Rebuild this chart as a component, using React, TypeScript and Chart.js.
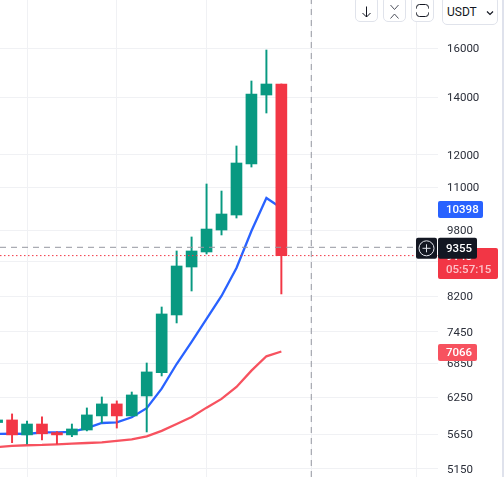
import { useEffect, useRef } from 'react';
import { Chart, registerables } from 'chart.js';

Chart.register(...registerables);

// candle values, oldest first
const opens = [5836, 5877, 5645, 5813, 5680, 5645, 5720, 5941, 6136, 5941, 6269, 6675, 7797, 8872, 9238, 9801, 10205, 11707, 14098, 14522];
const highs = [5900, 5973, 5861, 5925, 5696, 5813, 6070, 6252, 6186, 6336, 6851, 7966, 9263, 9619, 11094, 10886, 12290, 14640, 15914, 14522];
const lows = [5800, 5528, 5509, 5568, 5509, 5618, 5706, 5829, 5750, 5941, 5690, 6616, 7631, 8317, 9189, 9671, 10123, 11613, 13431, 8251];
const closes = [5877, 5645, 5813, 5662, 5645, 5736, 5957, 6136, 5941, 6286, 6688, 7818, 8896, 9263, 9827, 10233, 11739, 14136, 14522, 9148];

// moving averages
const fastMa = [5659, 5665, 5659, 5683, 5685, 5690, 5750, 5829, 5840, 5920, 6065, 6393, 6832, 7250, 7714, 8206, 8848, 9776, 10684, 10398];
const slowMa = [5461, 5480, 5490, 5494, 5504, 5513, 5523, 5534, 5554, 5579, 5624, 5706, 5813, 5925, 6075, 6220, 6423, 6712, 6976, 7066];

const priceTicks = [16000, 14000, 12000, 11000, 9800, 9000, 8200, 7450, 6850, 6250, 5650, 5150];
const timeTicks = [2, 8, 14, 21, 28];

const crosshairPrice = 9355;
const crosshairTime = 21;
const lastPrice = 9148;
const countdown = '05:57:15';

const xMin = 0.194;
const xMax = 29.47;
const yMin = 5040;
const yMax = 18208;

const green = '#089981';
const red = '#f23645';
const blue = '#2962ff';
const pink = '#f7525f';
const dark = '#131722';
const gridColor = '#f0f1f4';
const labelFont = '500 11.5px Roboto';

const colors = closes.map((c, i) => (c >= opens[i] ? green : red));

function tag(ctx: CanvasRenderingContext2D, x: number, y: number, w: number, h: number, bg: string) {
  ctx.fillStyle = bg;
  ctx.beginPath();
  ctx.roundRect(x, y, w, h, 2);
  ctx.fill();
}

function tagText(ctx: CanvasRenderingContext2D, text: string, x: number, y: number, color = '#fff') {
  ctx.fillStyle = color;
  ctx.font = labelFont;
  ctx.textAlign = 'left';
  ctx.textBaseline = 'middle';
  ctx.fillText(text, x, y);
}

// price tags over the axis
const priceTags = {
  id: 'priceTags',
  afterDraw(chart: Chart) {
    const ctx = chart.ctx;
    const y = chart.scales.y;
    ctx.save();

    const fastY = y.getPixelForValue(fastMa[fastMa.length - 1]) + 1.5;
    tag(ctx, 438, fastY - 8.5, 45, 17, blue);
    tagText(ctx, String(fastMa[fastMa.length - 1]), 446, fastY + 1);

    const slowY = y.getPixelForValue(slowMa[slowMa.length - 1]) + 0.9;
    tag(ctx, 438, slowY - 8.5, 39, 17, pink);
    tagText(ctx, String(slowMa[slowMa.length - 1]), 446, slowY + 1);

    const lastY = y.getPixelForValue(lastPrice);
    tag(ctx, 438, lastY - 7.5, 60, 31, red);
    tagText(ctx, String(lastPrice), 446, lastY + 2);
    tagText(ctx, countdown, 446, lastY + 15, '#fcc2c8');

    const crossY = y.getPixelForValue(crosshairPrice) + 1;
    tag(ctx, 416, crossY - 10.5, 21, 21, dark);
    tag(ctx, 438, crossY - 10.5, 39, 21, dark);
    tagText(ctx, String(crosshairPrice), 446, crossY + 1);

    ctx.strokeStyle = '#e0e3eb';
    ctx.lineWidth = 1;
    ctx.beginPath();
    ctx.arc(426.5, crossY, 7.5, 0, Math.PI * 2);
    ctx.moveTo(422.5, crossY);
    ctx.lineTo(430.5, crossY);
    ctx.moveTo(426.5, crossY - 4);
    ctx.lineTo(426.5, crossY + 4);
    ctx.stroke();

    ctx.restore();
  },
};

const buttonStyle = {
  position: 'absolute',
  top: -4,
  height: 26,
  width: 23,
  boxSizing: 'border-box',
  background: '#fff',
  border: '1px solid #e0e3eb',
  borderRadius: 5,
} as const;

function Toolbar() {
  return (
    <>
      <div style={{ ...buttonStyle, left: 355 }}>
        <svg width="21" height="24" style={{ display: 'block' }}>
          <path d="M10.5 9.5V20M6.5 16l4 4 4-4" fill="none" stroke="#131722" strokeWidth="1" />
        </svg>
      </div>
      <div style={{ ...buttonStyle, left: 382.5 }}>
        <svg width="21" height="24" style={{ display: 'block' }}>
          <path d="M6.5 8l4 4.5 4-4.5M6.5 21.5l4-4.5 4 4.5" fill="none" stroke="#50535e" strokeWidth="1" />
        </svg>
      </div>
      <div style={{ ...buttonStyle, left: 410.5 }}>
        <svg width="21" height="24" style={{ display: 'block' }}>
          <path d="M4.5 11.5v-1a3 3 0 0 1 3-3h6a3 3 0 0 1 3 3v1M4.5 15.5v1a3 3 0 0 0 3 3h6a3 3 0 0 0 3-3v-1" fill="none" stroke="#131722" strokeWidth="1" />
        </svg>
      </div>
      <div style={{ ...buttonStyle, left: 442, width: 56, height: 29, paddingTop: 8, paddingLeft: 4, font: '12px Roboto', color: dark }}>
        USDT
        <svg width="8" height="6" style={{ position: 'absolute', left: 43, top: 13 }}>
          <path d="M1 1.5l3 3 3-3" fill="none" stroke="#131722" strokeWidth="1.2" />
        </svg>
      </div>
    </>
  );
}

export default function App() {
  const canvasRef = useRef<HTMLCanvasElement>(null);

  useEffect(() => {
    if (!canvasRef.current) return;

    const chart = new Chart(canvasRef.current, {
      type: 'bar',
      data: {
        datasets: [
          {
            type: 'line',
            data: [{ x: xMin, y: crosshairPrice }, { x: xMax, y: crosshairPrice }],
            borderColor: '#9598a1',
            borderWidth: 1,
            borderDash: [6, 5],
            pointRadius: 0,
            order: 0,
          },
          {
            type: 'line',
            data: [{ x: crosshairTime, y: yMin }, { x: crosshairTime, y: yMax }],
            borderColor: '#9598a1',
            borderWidth: 1,
            borderDash: [6, 5],
            pointRadius: 0,
            order: 0,
          },
          {
            type: 'line',
            data: [{ x: xMin, y: lastPrice }, { x: xMax, y: lastPrice }],
            borderColor: red,
            borderWidth: 1,
            borderDash: [1.5, 2.5],
            pointRadius: 0,
            order: 1,
          },
          {
            label: 'Body',
            data: closes.map((c, i) => ({ x: i, y: [opens[i], c] })),
            backgroundColor: colors,
            maxBarThickness: 11,
            grouped: false,
            categoryPercentage: 1,
            barPercentage: 1,
            order: 2,
          },
          {
            label: 'Wick',
            data: highs.map((h, i) => ({ x: i, y: [lows[i], h] })),
            backgroundColor: colors,
            maxBarThickness: 1.3,
            grouped: false,
            categoryPercentage: 1,
            barPercentage: 1,
            order: 3,
          },
          {
            type: 'line',
            label: 'MA fast',
            data: fastMa.map((v, i) => ({ x: i, y: v })),
            borderColor: blue,
            borderWidth: 2.3,
            pointRadius: 0,
            tension: 0,
            order: 4,
          },
          {
            type: 'line',
            label: 'MA slow',
            data: slowMa.map((v, i) => ({ x: i, y: v })),
            borderColor: pink,
            borderWidth: 2.3,
            pointRadius: 0,
            tension: 0,
            order: 5,
          },
        ],
      } as any,
      options: {
        animation: false,
        responsive: false,
        maintainAspectRatio: false,
        layout: { padding: 0 },
        plugins: {
          legend: { display: false },
          tooltip: { enabled: false },
        },
        scales: {
          x: {
            type: 'linear',
            min: xMin,
            max: xMax,
            offset: false,
            afterBuildTicks: (scale: any) => {
              scale.ticks = timeTicks.map((value) => ({ value }));
            },
            afterFit: (scale: any) => {
              scale.height = 0;
              scale.paddingLeft = 0;
              scale.paddingRight = 0;
            },
            grid: { color: gridColor, drawTicks: false, offset: false },
            border: { display: false },
            ticks: { display: false },
          },
          y: {
            type: 'logarithmic',
            position: 'right',
            min: yMin,
            max: yMax,
            afterFit: (scale: any) => {
              scale.width = 66;
              scale.paddingTop = 0;
              scale.paddingBottom = 0;
            },
            afterBuildTicks: (scale: any) => {
              scale.ticks = priceTicks.map((value) => ({ value }));
            },
            grid: { color: gridColor, drawTicks: false },
            border: { display: false },
            ticks: {
              autoSkip: false,
              padding: 9,
              labelOffset: 1,
              color: '#2a2e39',
              font: { family: 'Roboto', size: 11.5 },
              callback: (value: any) => String(value),
            },
          },
        },
      } as any,
      plugins: [priceTags],
    });

    return () => chart.destroy();
  }, []);

  return (
    <div style={{ position: 'fixed', left: 0, top: 0, width: 504, height: 477, background: '#fff', overflow: 'hidden' }}>
      <canvas ref={canvasRef} width={504} height={477} style={{ display: 'block' }} />
      <Toolbar />
      <div style={{ position: 'absolute', left: 502, top: 0, width: 2, height: 477, background: '#dfe2ec' }} />
    </div>
  );
}
